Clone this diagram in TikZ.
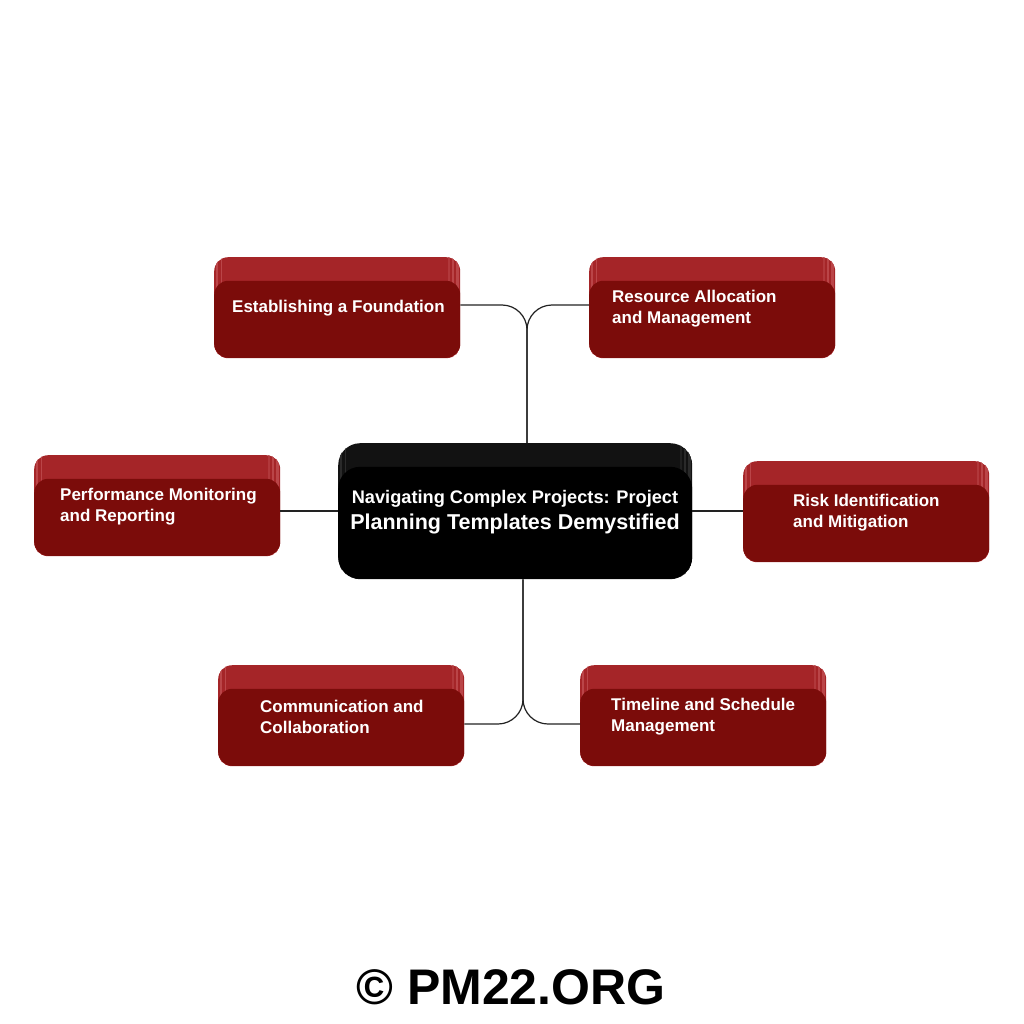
\documentclass[tikz,border=0pt]{standalone}
\usepackage{fontspec}
\setmainfont{Liberation Sans}
\usetikzlibrary{calc}
\definecolor{frontred}{HTML}{7B0C0A}
\definecolor{backred}{HTML}{A52528}
\definecolor{striplight}{HTML}{BA4548}
\definecolor{backblack}{HTML}{121212}
\definecolor{stripblack}{HTML}{2A2A2A}
\definecolor{connline}{HTML}{222222}
\newcommand\myedgestrips[3]{%
  \begin{scope}
    \clip[rounded corners=#3] (#1.north west) rectangle (#1.south east);
    \fill[#2] ($(#1.north west)+(2,0)$) rectangle ($(#1.south west)+(4,0)$);
    \fill[#2] ($(#1.north west)+(7,0)$) rectangle ($(#1.south west)+(8,0)$);
    \fill[#2, opacity=0.6] ($(#1.north east)+(-12,0)$) rectangle ($(#1.south east)+(-10,0)$);
    \fill[#2] ($(#1.north east)+(-8,0)$) rectangle ($(#1.south east)+(-6,0)$);
    \fill[#2] ($(#1.north east)+(-4,0)$) rectangle ($(#1.south east)+(-1,0)$);
  \end{scope}}
\begin{document}
\begin{tikzpicture}[x=1pt,y=-1pt,
  backbox/.style={fill=backred, rounded corners=14pt, inner sep=0pt, minimum width=246pt, minimum height=101pt, anchor=north west},
  frontbox/.style={fill=frontred, rounded corners=14pt, inner sep=0pt, minimum width=246pt, minimum height=77pt, anchor=south west},
  lbl/.style={text=white, align=left, anchor=west, inner sep=0pt, font=\bfseries\fontsize{17}{21}\selectfont},
  conn/.style={draw=connline, line width=1.2pt, rounded corners=25pt}]
\useasboundingbox[fill=white] (0,0) rectangle (1024,1024);

% Establishing a Foundation
\node[backbox] (eb) at (214,257) {};
\myedgestrips{eb}{striplight}{14pt}
\node[frontbox] (ef) at (214,358) {};
\node[lbl] (et) at (232,308) {Establishing a Foundation};

% Resource Allocation
\node[backbox] (rb) at (589,257) {};
\myedgestrips{rb}{striplight}{14pt}
\node[frontbox] (rf) at (589,358) {};
\node[lbl] (rt) at (612,308.5) {Resource Allocation\\and Management};

% Performance
\node[backbox] (pb) at (34,455) {};
\myedgestrips{pb}{striplight}{14pt}
\node[frontbox] (pf) at (34,556) {};
\node[lbl] (pt) at (60,507) {Performance Monitoring\\and Reporting};

% Risk
\node[backbox] (kb) at (743,461) {};
\myedgestrips{kb}{striplight}{14pt}
\node[frontbox] (kf) at (743,562) {};
\node[lbl] (kt) at (793,513) {Risk Identification\\and Mitigation};

% Communication
\node[backbox] (mb) at (218,665) {};
\myedgestrips{mb}{striplight}{14pt}
\node[frontbox] (mf) at (218,766) {};
\node[lbl] (mt) at (260,717) {Communication and\\Collaboration};

% Timeline
\node[backbox] (tb) at (580,665) {};
\myedgestrips{tb}{striplight}{14pt}
\node[frontbox] (tf) at (580,766) {};
\node[lbl] (tt) at (611,717) {Timeline and Schedule\\Management};

% Center
\node[fill=backblack, rounded corners=22pt, inner sep=0pt, minimum width=354pt, minimum height=136pt, anchor=north west] (cb) at (338,443) {};
\myedgestrips{cb}{stripblack}{22pt}
\node[fill=black, rounded corners=22pt, inner sep=0pt, minimum width=354pt, minimum height=112pt, anchor=south west] (cf) at (338,579) {};
\node[text=white, align=center, inner sep=0pt, font=\bfseries\fontsize{21.5}{26}\selectfont] (ct) at (515,512)
  {{\fontsize{18.2}{26}\selectfont Navigating Complex Projects: Project}\\Planning Templates Demystified};

% Connectors
\coordinate (jt) at (527,330);
\coordinate (jb) at (523,700);
\coordinate (ml) at (0,511);
\coordinate (yb) at (0,724);
\coordinate (yt) at (0,305);
\draw[conn] (cb.north -| jt) |- (yt -| ef.east);
\draw[conn] (cb.north -| jt) |- (yt -| rf.west);
\draw[conn] (pf.east |- ml) -- (cb.west |- ml);
\draw[conn] (cb.east |- ml) -- (kf.west |- ml);
\draw[conn] (cb.south -| jb) |- (mf.east |- yb);
\draw[conn] (cb.south -| jb) |- (tf.west |- yb);

% Copyright
\node[inner sep=0pt, font=\bfseries\fontsize{50}{60}\selectfont] (cp) at (511,987) {© PM22.ORG};
\end{tikzpicture}
\end{document}
